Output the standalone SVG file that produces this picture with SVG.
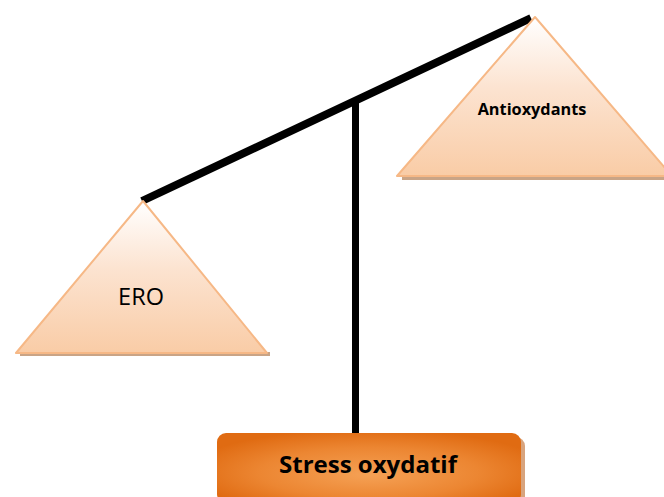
<svg xmlns="http://www.w3.org/2000/svg" width="664" height="497" viewBox="0 0 664 497">
  <defs>
    <linearGradient id="pan" x1="0" y1="0" x2="0" y2="1">
      <stop offset="0" stop-color="#ffffff"/>
      <stop offset="0.45" stop-color="#fce3d0"/>
      <stop offset="1" stop-color="#f9cca6"/>
    </linearGradient>
    <radialGradient id="box" cx="0.5" cy="0.55" r="0.6" fx="0.5" fy="0.6">
      <stop offset="0" stop-color="#f5a155"/>
      <stop offset="0.6" stop-color="#ec8632"/>
      <stop offset="1" stop-color="#e06b12"/>
    </radialGradient>
    <style>
      .pan { fill: url(#pan); stroke: #f6b886; stroke-width: 2; stroke-linejoin: round; }
      .shadow { fill: #c9a486; }
      .beam { stroke: #000; stroke-linecap: butt; fill: none; }
      .label { font-family: "Open Sans", "Liberation Sans", sans-serif; fill: #000; text-anchor: middle; }
    </style>
  </defs>

  <!-- balance beam and post -->
  <g id="connectors">
    <line class="beam" x1="355.5" y1="100" x2="355.5" y2="434" stroke-width="7"/>
    <line class="beam" x1="142" y1="201" x2="531" y2="18" stroke-width="8"/>
  </g>

  <!-- left pan -->
  <g id="ero">
    <rect class="shadow" x="20" y="352" width="250" height="4"/>
    <polygon class="pan" points="143,201 16,353 267,353"/>
    <text class="label" x="141" y="305" font-size="23.5">ERO</text>
  </g>

  <!-- right pan -->
  <g id="antioxydants">
    <rect class="shadow" x="402" y="176" width="262" height="4"/>
    <polygon class="pan" points="535,17 397,176 672,176"/>
    <text class="label" x="532" y="115" font-size="16.3" font-weight="bold">Antioxydants</text>
  </g>

  <!-- result box -->
  <g id="stress">
    <rect x="221" y="437" width="304" height="70" rx="9" fill="#b85a14" opacity="0.55"/>
    <rect x="217" y="433" width="304" height="70" rx="9" fill="url(#box)"/>
    <text class="label" x="368" y="473" font-size="24" font-weight="bold">Stress oxydatif</text>
  </g>
</svg>
